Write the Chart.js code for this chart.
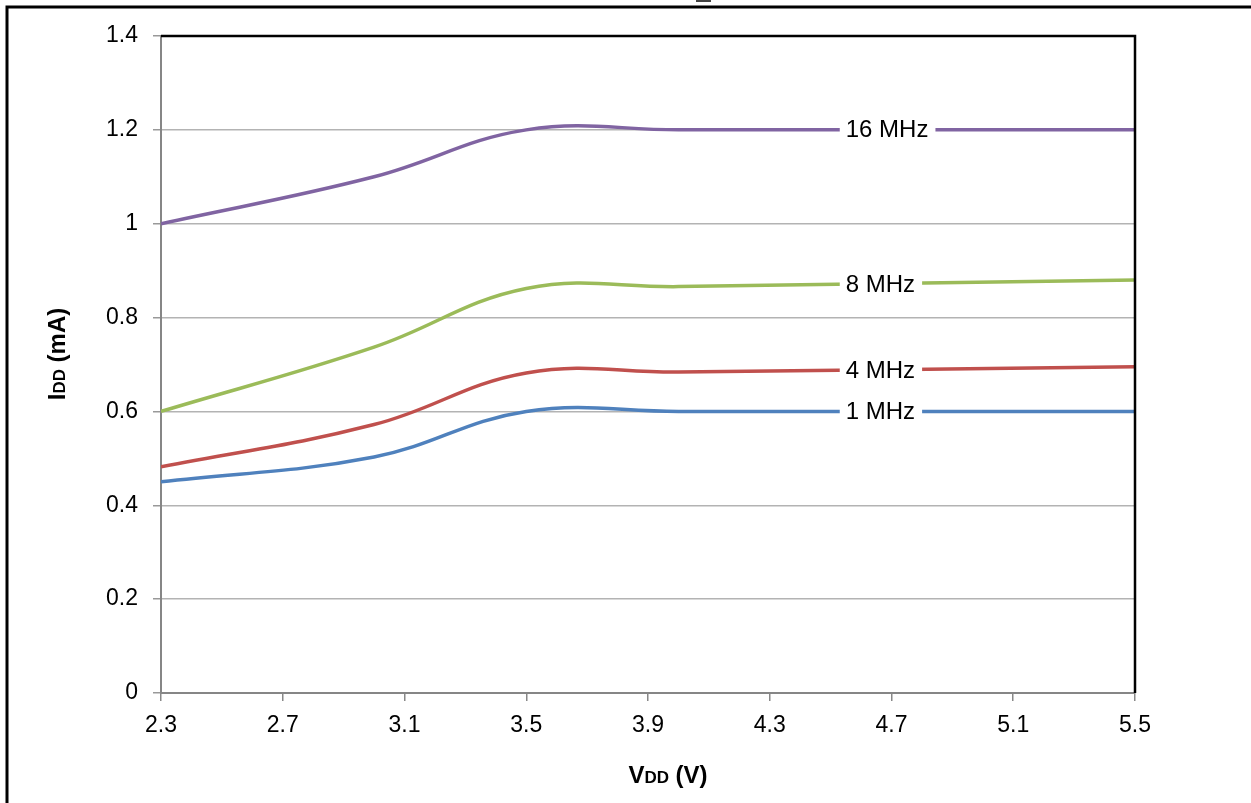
<!DOCTYPE html>
<html>
<head>
<meta charset="utf-8">
<script src="https://cdn.jsdelivr.net/npm/chart.js@4.4.0/dist/chart.umd.min.js"></script>
<style>
  body { margin: 0; background: #fff; }
  #wrap { width: 1251px; height: 803px; }
</style>
</head>
<body>
<div id="wrap"><canvas id="iddChart" width="1251" height="803"></canvas></div>
<script>
// supply voltage (V) and supply current (mA) per clock frequency
const vdd = [2.3, 3.0, 3.5, 4.0, 5.5];
const idd1MHz = [0.45, 0.503, 0.60, 0.60, 0.60];
const idd4MHz = [0.482, 0.572, 0.682, 0.684, 0.695];
const idd8MHz = [0.60, 0.737, 0.862, 0.866, 0.88];
const idd16MHz = [1.00, 1.10, 1.20, 1.20, 1.20];

const seriesNames = ["1 MHz", "4 MHz", "8 MHz", "16 MHz"];
const seriesColors = ["#4F81BD", "#C0504D", "#9BBB59", "#8064A2"];
// where each inline label sits on its line
const labelVdd = 4.53;
const labelIdd = [0.60, 0.687, 0.871, 1.20];

const xTicks = [2.3, 2.7, 3.1, 3.5, 3.9, 4.3, 4.7, 5.1, 5.5];
const yTicks = [0, 0.2, 0.4, 0.6, 0.8, 1, 1.2, 1.4];

const FONT = '"Liberation Sans", Arial, sans-serif';

function toPoints(ys) {
    return vdd.map((v, i) => ({ x: v, y: ys[i] }));
}

const allSeries = [idd1MHz, idd4MHz, idd8MHz, idd16MHz];

const decorations = {
    id: "decorations",
    beforeDraw(chart) {
        const ctx = chart.ctx;
        ctx.save();
        // outer frame (top + left visible)
        ctx.strokeStyle = "#000";
        ctx.lineWidth = 3;
        ctx.beginPath();
        ctx.moveTo(7, 810);
        ctx.lineTo(7, 7);
        ctx.lineTo(1260, 7);
        ctx.stroke();
        // cut-off title remnant
        ctx.fillStyle = "#444";
        ctx.fillRect(696, 0, 15, 2);
        ctx.restore();
    },
    afterDatasetsDraw(chart) {
        const ctx = chart.ctx;
        const xs = chart.scales.x;
        const ys = chart.scales.y;
        ctx.save();
        ctx.font = "24px " + FONT;
        ctx.textBaseline = "middle";
        ctx.textAlign = "left";
        seriesNames.forEach((name, i) => {
            const px = xs.getPixelForValue(labelVdd);
            const py = ys.getPixelForValue(labelIdd[i]);
            const w = ctx.measureText(name).width;
            ctx.fillStyle = "#fff";
            ctx.fillRect(px, py - 14, w + 13, 28);
            ctx.fillStyle = "#000";
            ctx.fillText(name, px + 6, py + 1);
        });
        ctx.restore();
    },
    afterDraw(chart) {
        const ctx = chart.ctx;
        const area = chart.chartArea;
        ctx.save();
        // dark plot border on top and right
        ctx.strokeStyle = "#000";
        ctx.lineWidth = 2.5;
        ctx.beginPath();
        ctx.moveTo(area.left, area.top);
        ctx.lineTo(area.right, area.top);
        ctx.lineTo(area.right, area.bottom);
        ctx.stroke();

        // axis titles with small "DD"
        const big = "bold 24px " + FONT;
        const small = "bold 17px " + FONT;
        function drawTitle(parts, cx, baseY) {
            let total = 0;
            parts.forEach(p => { ctx.font = p[1]; total += ctx.measureText(p[0]).width; });
            let x = cx - total / 2;
            parts.forEach(p => {
                ctx.font = p[1];
                ctx.fillText(p[0], x, baseY);
                x += ctx.measureText(p[0]).width;
            });
        }
        ctx.fillStyle = "#000";
        ctx.textBaseline = "alphabetic";
        ctx.textAlign = "left";
        drawTitle([["V", big], ["DD", small], [" (V)", big]], 668, 783);

        ctx.translate(65, 354);
        ctx.rotate(-Math.PI / 2);
        drawTitle([["I", big], ["DD", small], [" (mA)", big]], 0, 0);
        ctx.restore();
    }
};

new Chart(document.getElementById("iddChart").getContext("2d"), {
    type: "line",
    data: {
        datasets: allSeries.map((ys, i) => ({
            label: seriesNames[i],
            data: toPoints(ys),
            borderColor: seriesColors[i],
            borderWidth: 3.5,
            pointRadius: 0,
            tension: 0.4,
            fill: false
        }))
    },
    options: {
        responsive: false,
        devicePixelRatio: 1,
        animation: false,
        layout: { padding: { top: 36, right: 116, left: 0, bottom: 0 } },
        plugins: {
            legend: { display: false },
            tooltip: { enabled: false }
        },
        scales: {
            x: {
                type: "linear",
                min: 2.3,
                max: 5.5,
                afterBuildTicks: s => { s.ticks = xTicks.map(v => ({ value: v })); },
                afterFit: s => { s.height = 110; },
                ticks: {
                    color: "#000",
                    font: { family: FONT, size: 23 },
                    padding: 11,
                    maxRotation: 0,
                    callback: v => v.toFixed(1)
                },
                grid: { drawOnChartArea: false, drawTicks: true, tickLength: 8, color: "#888", lineWidth: 1.5 },
                border: { color: "#868686", width: 2 }
            },
            y: {
                min: 0,
                max: 1.4,
                afterBuildTicks: s => { s.ticks = yTicks.map(v => ({ value: v })); },
                afterFit: s => { s.width = 161; },
                ticks: {
                    color: "#000",
                    font: { family: FONT, size: 23 },
                    padding: 15,
                    callback: v => (v === 0 || v === 1) ? String(v) : v.toFixed(1)
                },
                grid: { color: "#b3b3b3", lineWidth: 1.5, tickLength: 8, tickColor: "#999" },
                border: { color: "#868686", width: 2 }
            }
        }
    },
    plugins: [decorations]
});
</script>
</body>
</html>
